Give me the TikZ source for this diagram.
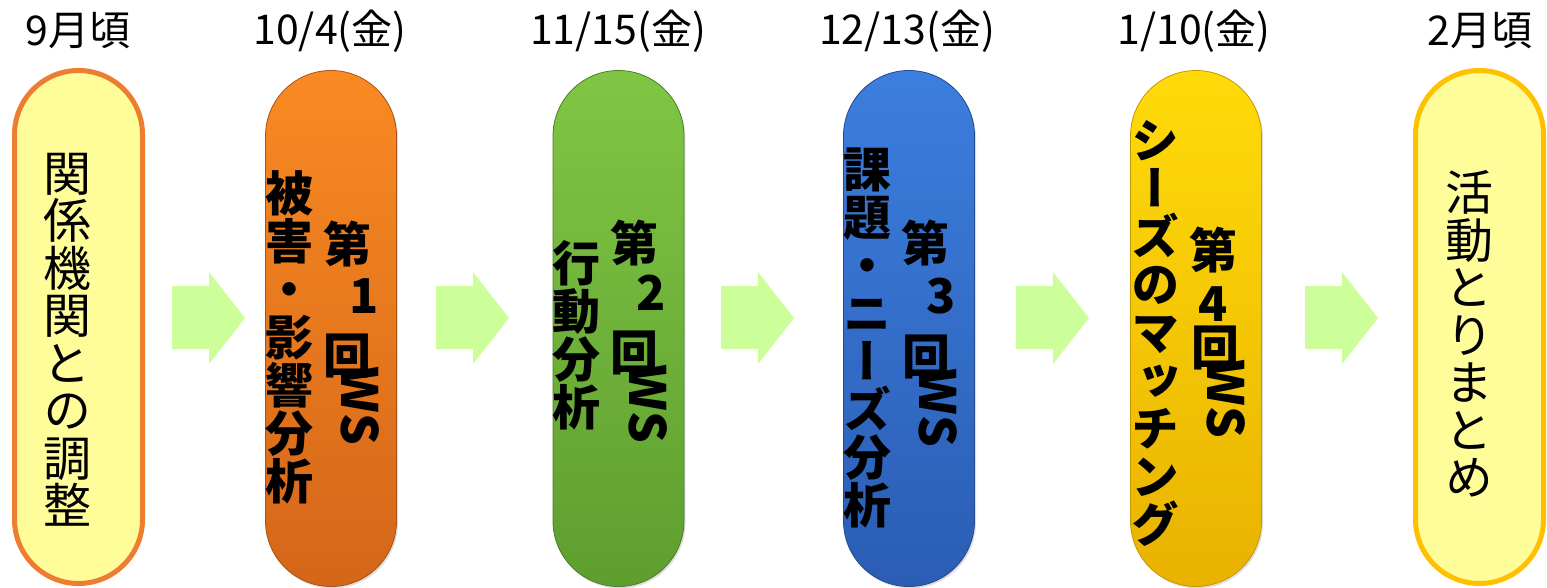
\documentclass[tikz,border=0pt]{standalone}
\usepackage{fontspec}
\setmainfont{Noto Sans CJK JP}
\newfontfamily\vjp[RawFeature=+vert]{Noto Sans CJK JP}
\usetikzlibrary{shadows}
\definecolor{paleyellow}{HTML}{FFFC9A}
\definecolor{borderorange}{HTML}{ED7D31}
\definecolor{bordergold}{HTML}{FFC000}
\definecolor{arrowgreen}{HTML}{CCFF99}
\definecolor{orangetop}{HTML}{F98A22}
\definecolor{orangebot}{HTML}{D4661A}
\definecolor{greentop}{HTML}{80C644}
\definecolor{greenbot}{HTML}{5E9E30}
\definecolor{bluetop}{HTML}{3C7EDE}
\definecolor{bluebot}{HTML}{2B5DB4}
\definecolor{goldtop}{HTML}{FFDB0A}
\definecolor{goldbot}{HTML}{E9B200}
\tikzset{
  plainpill/.style={rectangle, rounded corners=64pt, line width=5pt, fill=paleyellow,
    minimum width=128pt, minimum height=513pt, inner sep=0pt},
  colpill/.style={rectangle, rounded corners=65.5pt, line width=0.8pt,
    minimum width=131pt, minimum height=516pt, inner sep=0pt,
    drop shadow={opacity=0.25, shadow xshift=1.5pt, shadow yshift=-2pt}},
  vreg/.style={align=center, inner sep=0pt, font=\vjp\fontsize{48}{47.5}\selectfont},
  vbold/.style={align=center, inner sep=0pt, font=\vjp\bfseries\fontsize{48}{48}\selectfont},
  bch/.style={inner sep=0pt, font=\bfseries\fontsize{48}{48}\selectfont},
  wslab/.style={inner sep=0pt, rotate=-90, font=\bfseries\fontsize{50}{50}\selectfont},
  datelab/.style={inner sep=0pt, font=\fontsize{41}{41}\selectfont},
  blockarrow/.style={fill=arrowgreen, draw=none}
}
\newcommand{\blockarr}[1]{%
  \fill[blockarrow] (#1,286) -- ++(37,0) -- ++(0,-14) -- ++(36,46) -- ++(-36,46)
    -- ++(0,-15) -- ++(-37,0) -- cycle;}
\begin{document}
\begin{tikzpicture}[x=1pt,y=-1pt]
\useasboundingbox (0,0) rectangle (1547,588);
% date labels
\node[datelab] (d1) at (78,31) {9月頃};
\node[datelab] (d2) at (330,31) {10/4(金)};
\node[datelab] (d3) at (618,31) {11/15(金)};
\node[datelab] (d4) at (907,31) {12/13(金)};
\node[datelab] (d5) at (1194,31) {1/10(金)};
\node[datelab] (d6) at (1480,31) {2月頃};
% pills
\node[plainpill, draw=borderorange] (p1) at (78.5,327) {};
\node[colpill, top color=orangetop, bottom color=orangebot, draw=orangebot!80!black] (p2) at (331,328.5) {};
\node[colpill, top color=greentop, bottom color=greenbot, draw=greenbot!80!black] (p3) at (618.5,328.5) {};
\node[colpill, top color=bluetop, bottom color=bluebot, draw=bluebot!80!black] (p4) at (909,328.5) {};
\node[colpill, top color=goldtop, bottom color=goldbot, draw=goldbot!85!black] (p5) at (1196,328.5) {};
\node[plainpill, draw=bordergold] (p6) at (1479.5,327) {};
% arrows
\blockarr{172}
\blockarr{436}
\blockarr{721}
\blockarr{1016}
\blockarr{1305}
% pill 1 & 6 text
\node[vreg] (t1) at (67,340) {関\\係\\機\\関\\と\\の\\調\\整};
\node[vreg] (t6) at (1469.5,334) {活\\動\\と\\り\\ま\\と\\め};
% pill 2
\node[vbold] (l2) at (289.5,337.5) {被\\害\\・\\影\\響\\分\\析};
\node[bch] (a2) at (347.5,244) {第};
\node[bch] (n2) at (364,296) {1};
\node[bch] (b2) at (347,356) {回};
\node[wslab] (w2) at (360,406) {WS};
% pill 3
\node[vbold] (l3) at (576,335) {行\\動\\分\\析};
\node[bch] (a3) at (634.5,243) {第};
\node[bch] (n3) at (651,293) {2};
\node[bch] (b3) at (634,353) {回};
\node[wslab] (w3) at (648,404) {WS};
% pill 4
\node[vbold] (l4) at (867,338) {課\\題\\・\\ニ\\ー\\ズ\\分\\析};
\node[bch] (a4) at (925,243) {第};
\node[bch] (n4) at (941,296) {3};
\node[bch] (b4) at (926,357) {回};
\node[wslab] (w4) at (938,408) {WS};
% pill 5
\node[vbold] (l5) at (1155,334) {シ\\ー\\ズ\\の\\マ\\ッ\\チ\\ン\\グ};
\node[bch] (a5) at (1213,250) {第};
\node[bch] (n5) at (1213,304) {4};
\node[bch] (b5) at (1215,348) {回};
\node[wslab] (w5) at (1226,399) {WS};
\end{tikzpicture}
\end{document}
